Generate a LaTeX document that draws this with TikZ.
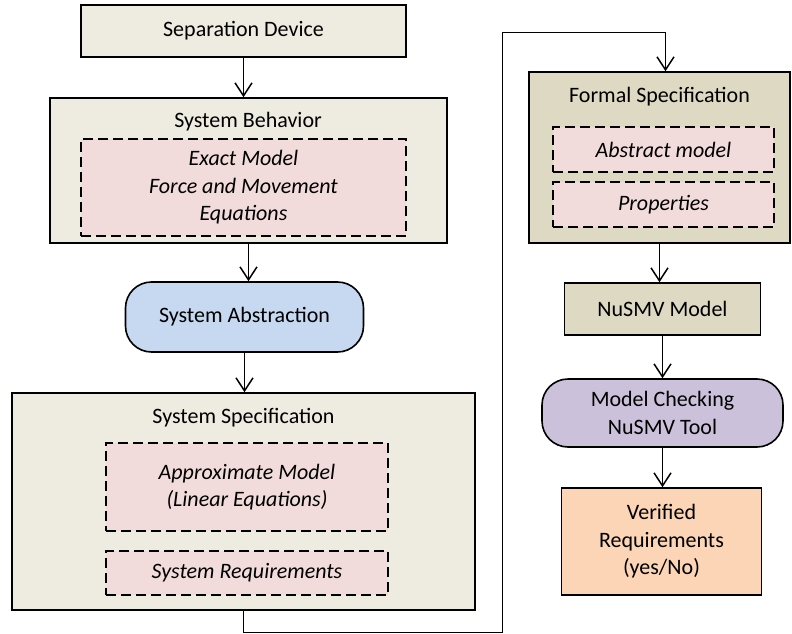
\documentclass[tikz,border=0pt]{standalone}
\usepackage{fontspec}
\setmainfont{Carlito}
\usepackage{xcolor}
\usetikzlibrary{arrows.meta}

\definecolor{tanlight}{HTML}{EEECE1}
\definecolor{tandark}{HTML}{DDD9C3}
\definecolor{pinkfill}{HTML}{F2DCDB}
\definecolor{bluefill}{HTML}{C6D9F1}
\definecolor{lilacfill}{HTML}{CCC1DA}
\definecolor{peachfill}{HTML}{FBD5B5}
\newcommand{\diagfont}{\fontsize{22}{27.5}\selectfont}

\tikzset{
    box/.style={draw=black, line width=1.6pt, inner sep=0pt, align=center},
    inner/.style={box, fill=pinkfill, dash pattern=on 10pt off 5pt, font=\diagfont\itshape},
    roundbox/.style={box, rounded corners=26pt},
    flow/.style={line width=1.5pt, -{Straight Barb[length=13pt,width=17pt]}}
}

\begin{document}
\begin{tikzpicture}[x=1pt,y=-1pt,font=\diagfont]
        \useasboundingbox (0,0) rectangle (792,634);
        % left column
        \node[box,fill=tanlight,minimum width=325pt,minimum height=52pt] (sepdev) at (243.5,31) {Separation Device};
        \node[box,fill=tanlight,minimum width=397pt,minimum height=145pt] (sysbeh) at (248.5,170.5) {};
        \node (sysbehtitle) at (248,122) {System Behavior};
        \node[inner,minimum width=325pt,minimum height=97pt] (exact) at (243.5,187.5) {Exact Model\\Force and Movement\\Equations};
        \node[roundbox,fill=bluefill,minimum width=238pt,minimum height=70pt] (sysabs) at (244.5,317) {System Abstraction};
        \node[box,fill=tanlight,minimum width=463pt,minimum height=217pt] (sysspec) at (243.5,501.5) {};
        \node (sysspectitle) at (243.5,418) {System Specification};
        \node[inner,minimum width=282pt,minimum height=88pt] (approx) at (247,487) {Approximate Model\\(Linear Equations)};
        \node[inner,minimum width=282pt,minimum height=44pt] (sysreq) at (247,573) {System Requirements};
        % right column
        \node[box,fill=tandark,minimum width=261pt,minimum height=171pt] (formspec) at (659.5,157.5) {};
        \node (formspectitle) at (659.5,97) {Formal Specification};
        \node[inner,minimum width=221pt,minimum height=45pt] (abstract) at (663.5,149.5) {Abstract model};
        \node[inner,minimum width=221pt,minimum height=45pt] (props) at (663.5,204.5) {Properties};
        \node[box,fill=tandark,minimum width=196pt,minimum height=52pt] (nusmv) at (662.5,309) {NuSMV Model};
        \node[roundbox,fill=lilacfill,minimum width=241pt,minimum height=68pt] (mcheck) at (662.5,413) {Model Checking\\NuSMV Tool};
        \node[box,fill=peachfill,minimum width=200pt,minimum height=107pt] (verified) at (661.5,541.5) {Verified\\Requirements\\(yes/No)};
        % connectors
        \draw[flow] (sepdev.south) -- (sepdev.south |- sysbeh.north);
        \draw[flow] (sysbeh.south) -- (sysbeh.south |- sysabs.north);
        \draw[flow] (sysabs.south) -- (sysabs.south |- sysspec.north);
        \coordinate (lowturn) at (502.5,632.5);
        \coordinate (highturn) at (502.5,32.5);
        \draw[flow] (sysspec.south) |- (lowturn) -- (highturn) -| ([xshift=6pt]formspec.north);
        \draw[flow] (formspec.south) -- (formspec.south |- nusmv.north);
        \draw[flow] (nusmv.south) -- (nusmv.south |- mcheck.north);
        \draw[flow] (mcheck.south) -- (mcheck.south |- verified.north);
    \end{tikzpicture}
\end{document}
